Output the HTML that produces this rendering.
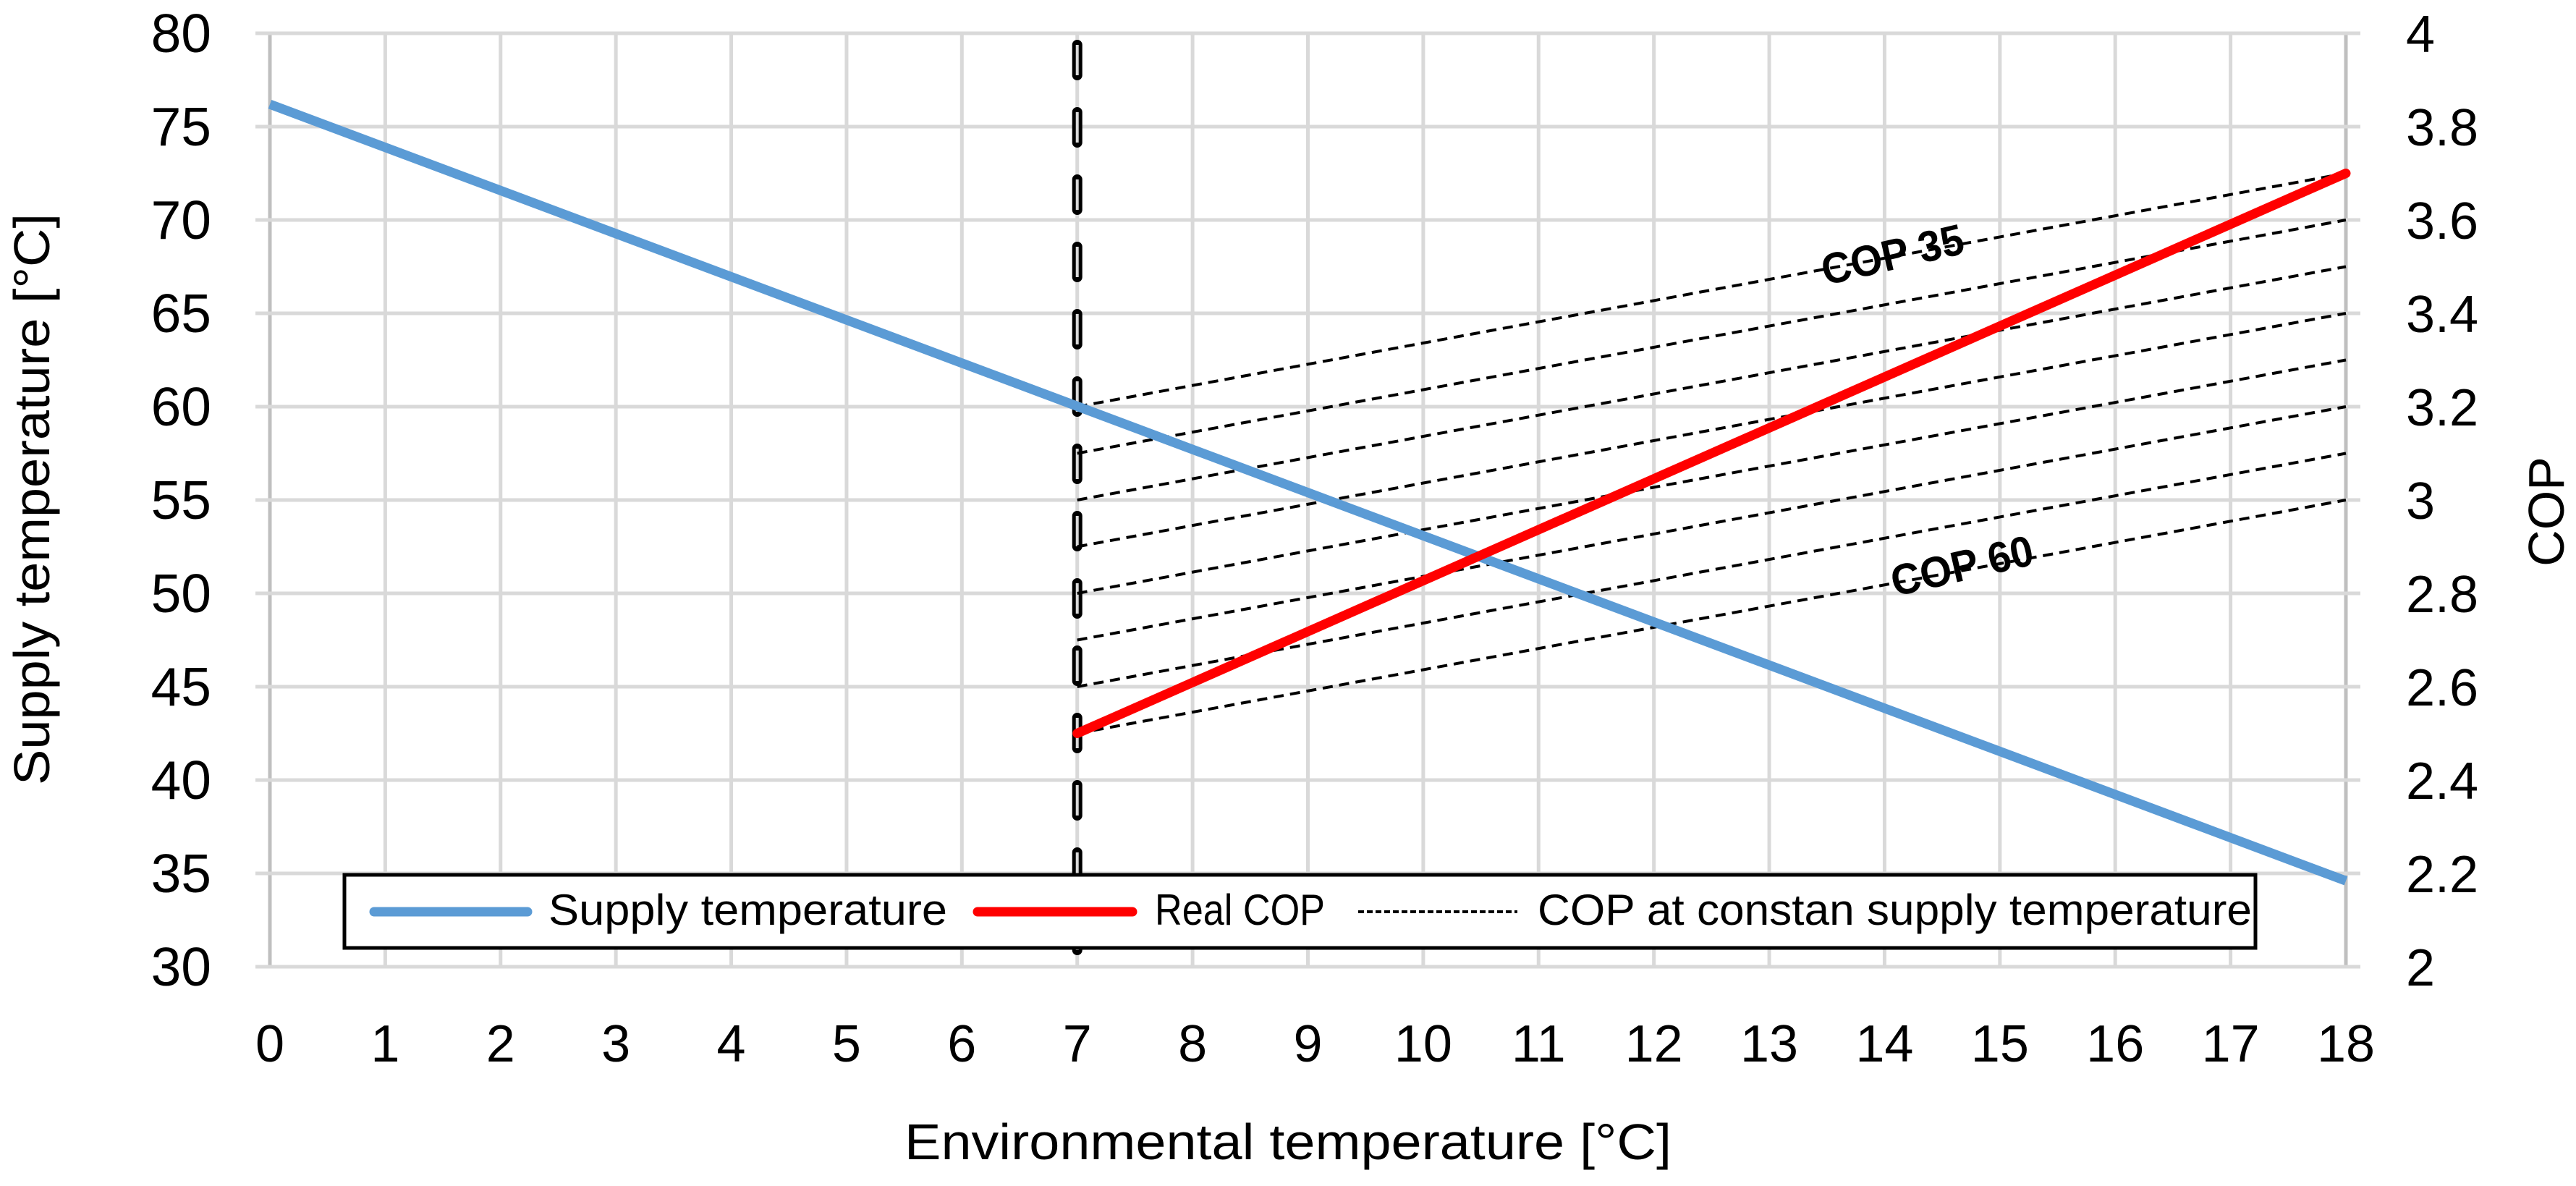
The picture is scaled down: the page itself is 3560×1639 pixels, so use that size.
<!DOCTYPE html>
<html><head><meta charset="utf-8"><style>
html,body{margin:0;padding:0;background:#fff;}
svg{display:block;font-family:"Liberation Sans",sans-serif;}
</style></head><body>
<svg id="chart" width="3560" height="1639" viewBox="0 0 3560 1639" xmlns="http://www.w3.org/2000/svg">
<g id="grid"></g>
<g id="series"></g>
<g id="axes"></g>
<text transform="translate(68,690) rotate(-90)" text-anchor="middle" font-size="70" textLength="790" lengthAdjust="spacingAndGlyphs">Supply temperature [°C]</text>
<text transform="translate(3543,707) rotate(-90)" text-anchor="middle" font-size="70">COP</text>
<text x="1780" y="1602" text-anchor="middle" font-size="70" textLength="1060" lengthAdjust="spacingAndGlyphs">Environmental temperature [°C]</text>
<text transform="translate(2620,372) rotate(-13)" text-anchor="middle" font-size="60" font-weight="bold" textLength="200" lengthAdjust="spacingAndGlyphs">COP 35</text>
<text transform="translate(2716,802) rotate(-13)" text-anchor="middle" font-size="60" font-weight="bold" textLength="200" lengthAdjust="spacingAndGlyphs">COP 60</text>
<g>
<rect x="476" y="1209" width="2641" height="101" fill="#fff" stroke="#000" stroke-width="5"/>
<line x1="517" y1="1260" x2="729" y2="1260" stroke="#5b9bd5" stroke-width="13" stroke-linecap="round"/>
<text x="758" y="1278" font-size="60" textLength="551" lengthAdjust="spacingAndGlyphs">Supply temperature</text>
<line x1="1351" y1="1260" x2="1565" y2="1260" stroke="#ff0000" stroke-width="13" stroke-linecap="round"/>
<text x="1596" y="1278" font-size="60" textLength="235" lengthAdjust="spacingAndGlyphs">Real COP</text>
<line x1="1877" y1="1260" x2="2097" y2="1260" stroke="#000" stroke-width="4" stroke-dasharray="8,4"/>
<text x="2125" y="1278" font-size="60" textLength="987" lengthAdjust="spacingAndGlyphs">COP at constan supply temperature</text>
</g>
</svg>
<script>
const xTicks=[0,1,2,3,4,5,6,7,8,9,10,11,12,13,14,15,16,17,18];
const yTicks=[30,35,40,45,50,55,60,65,70,75,80];
const y2Ticks=[2,2.2,2.4,2.6,2.8,3,3.2,3.4,3.6,3.8,4];
const supplyX=[0,18];
const supplyY=[76.2,34.6];
const realCopX=[7,18];
const realCopY=[2.5,3.7];
const constCopStart=[3.2,3.1,3.0,2.9,2.8,2.7,2.6,2.5];
const constCopEnd=[3.7,3.6,3.5,3.4,3.3,3.2,3.1,3.0];
const constCopX=[7,18];
const markerX=7;

const L=373,R=3242,T=46,B=1336;
const sx=v=>L+(v-0)/(18-0)*(R-L);
const sy=v=>B-(v-30)/(80-30)*(B-T);
const sy2=v=>B-(v-2)/(4-2)*(B-T);
const NS="http://www.w3.org/2000/svg";
function mk(parent,tag,attrs){const e=document.createElementNS(NS,tag);for(const k in attrs)e.setAttribute(k,attrs[k]);parent.appendChild(e);return e;}
const grid=document.getElementById('grid'),series=document.getElementById('series'),axes=document.getElementById('axes');

xTicks.forEach(v=>{
  const l=mk(grid,'line',{x1:sx(v),x2:sx(v),y1:T,y2:B,stroke:v===0||v===18?'#bfbfbf':'#d9d9d9','stroke-width':5});
  
  
  const t=mk(axes,'text',{x:sx(v),y:1467,'text-anchor':'middle','font-size':72});
  t.textContent=v;
  
  
});
y2Ticks.forEach(v=>{
  const l=mk(grid,'line',{x1:L-20,x2:R+20,y1:sy2(v),y2:sy2(v),stroke:'#bfbfbf','stroke-width':5});
  
  
  const t=mk(axes,'text',{x:3325,y:sy2(v)+26,'font-size':72});
  t.textContent=v;
  
  
});
yTicks.forEach(v=>{
  const l=mk(grid,'line',{x1:L-20,x2:R+20,y1:sy(v),y2:sy(v),stroke:'#d9d9d9','stroke-width':5});
  
  
  const t=mk(axes,'text',{x:292,y:sy(v)+26,'text-anchor':'end','font-size':75});
  t.textContent=v;
  
  
});
const m1=mk(series,'line',{x1:sx(markerX),x2:sx(markerX),y1:T+16,y2:B,stroke:'#000','stroke-width':14,'stroke-dasharray':'42,51','stroke-linecap':'round'});


const m2=mk(series,'line',{x1:sx(markerX),x2:sx(markerX),y1:T+16,y2:B,stroke:'#d9d9d9','stroke-width':4,'stroke-dasharray':'42,51'});


constCopStart.forEach((v,i)=>{
  const l=mk(series,'line',{x1:sx(constCopX[0]),y1:sy2(v),x2:sx(constCopX[1]),y2:sy2(constCopEnd[i]),stroke:'#000','stroke-width':4,'stroke-dasharray':'14,9'});
  
  
});
const s=mk(series,'polyline',{points:supplyX.map((x,i)=>sx(x)+','+sy(supplyY[i])).join(' '),fill:'none',stroke:'#5b9bd5','stroke-width':13});


const r=mk(series,'polyline',{points:realCopX.map((x,i)=>sx(x)+','+sy2(realCopY[i])).join(' '),fill:'none',stroke:'#ff0000','stroke-width':13,'stroke-linecap':'round'});


</script>
</body></html>
